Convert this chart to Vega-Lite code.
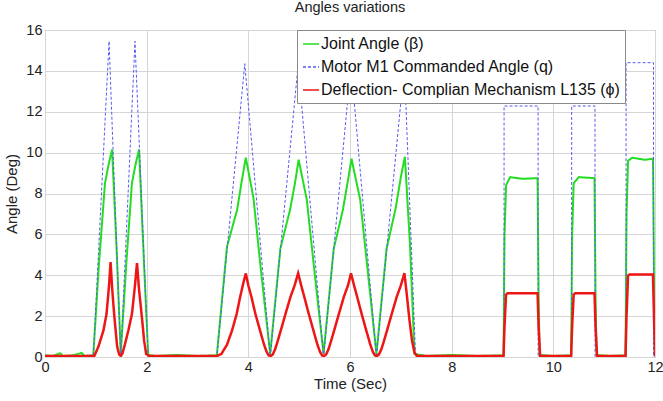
{
  "$schema": "https://vega.github.io/schema/vega-lite/v6.json",
  "width": 610,
  "height": 327,
  "autosize": {"type": "none"},
  "padding": {"left": 45, "top": 30, "right": 8, "bottom": 44},
  "background": "white",
  "config": {
    "font": "Liberation Sans",
    "view": {"stroke": "#8a8a8a", "strokeWidth": 1},
    "axis": {"labelFontSize": 14.5, "labelColor": "#222", "titleFontSize": 15, "titleFontWeight": "normal", "titleColor": "#222", "gridColor": "#d6d6d6", "gridWidth": 1, "ticks": false, "domain": false, "labelPadding": 3}
  },
  "title": {"text": "Angles variations", "fontSize": 14.5, "fontWeight": "normal", "color": "#222", "offset": 7, "anchor": "middle"},
  "data": {"values": [
    {"t":0,"v":0,"s":"q"},{"t":0.95,"v":0,"s":"q"},{"t":1.26,"v":15.45,"s":"q"},{"t":1.49,"v":0,"s":"q"},{"t":1.77,"v":15.45,"s":"q"},{"t":2.03,"v":0,"s":"q"},{"t":3.38,"v":0,"s":"q"},{"t":3.93,"v":14.35,"s":"q"},{"t":4.43,"v":0,"s":"q"},{"t":4.98,"v":14.3,"s":"q"},{"t":5.48,"v":0,"s":"q"},{"t":6.02,"v":14.3,"s":"q"},{"t":6.52,"v":0,"s":"q"},{"t":7.07,"v":14.3,"s":"q"},{"t":7.29,"v":0,"s":"q"},{"t":9.03,"v":0,"s":"q"},{"t":9.031,"v":12.28,"s":"q"},{"t":9.7,"v":12.28,"s":"q"},{"t":9.701,"v":0,"s":"q"},{"t":10.36,"v":0,"s":"q"},{"t":10.361,"v":12.28,"s":"q"},{"t":10.82,"v":12.28,"s":"q"},{"t":10.821,"v":0,"s":"q"},{"t":11.43,"v":0,"s":"q"},{"t":11.431,"v":14.4,"s":"q"},{"t":11.97,"v":14.4,"s":"q"},{"t":11.971,"v":0,"s":"q"},{"t":12,"v":0,"s":"q"},

    {"t":0,"v":0.08,"s":"beta"},{"t":0.15,"v":0.05,"s":"beta"},{"t":0.3,"v":0.18,"s":"beta"},{"t":0.35,"v":0.05,"s":"beta"},{"t":0.55,"v":0.08,"s":"beta"},{"t":0.72,"v":0.2,"s":"beta"},{"t":0.78,"v":0.05,"s":"beta"},{"t":0.95,"v":0.08,"s":"beta"},{"t":1.06,"v":4.5,"s":"beta"},{"t":1.18,"v":8.5,"s":"beta"},{"t":1.25,"v":9.4,"s":"beta"},{"t":1.32,"v":10.15,"s":"beta"},{"t":1.41,"v":5.2,"s":"beta"},{"t":1.49,"v":0.15,"s":"beta"},{"t":1.6,"v":4.6,"s":"beta"},{"t":1.71,"v":8.5,"s":"beta"},{"t":1.78,"v":9.4,"s":"beta"},{"t":1.85,"v":10.15,"s":"beta"},{"t":1.94,"v":5,"s":"beta"},{"t":2.03,"v":0.1,"s":"beta"},{"t":2.2,"v":0.05,"s":"beta"},{"t":2.6,"v":0.1,"s":"beta"},{"t":3.0,"v":0.05,"s":"beta"},{"t":3.38,"v":0.08,"s":"beta"},{"t":3.58,"v":5.4,"s":"beta"},{"t":3.78,"v":7.2,"s":"beta"},{"t":3.87,"v":8.6,"s":"beta"},{"t":3.95,"v":9.75,"s":"beta"},{"t":4.1,"v":7.8,"s":"beta"},{"t":4.25,"v":4.2,"s":"beta"},{"t":4.43,"v":0.15,"s":"beta"},{"t":4.63,"v":5.3,"s":"beta"},{"t":4.82,"v":7.2,"s":"beta"},{"t":4.91,"v":8.4,"s":"beta"},{"t":4.99,"v":9.65,"s":"beta"},{"t":5.15,"v":7.7,"s":"beta"},{"t":5.3,"v":4.2,"s":"beta"},{"t":5.48,"v":0.15,"s":"beta"},{"t":5.68,"v":5.3,"s":"beta"},{"t":5.86,"v":7.2,"s":"beta"},{"t":5.95,"v":8.5,"s":"beta"},{"t":6.03,"v":9.7,"s":"beta"},{"t":6.2,"v":7.7,"s":"beta"},{"t":6.35,"v":4.2,"s":"beta"},{"t":6.52,"v":0.15,"s":"beta"},{"t":6.72,"v":5.3,"s":"beta"},{"t":6.9,"v":7.3,"s":"beta"},{"t":7.0,"v":8.8,"s":"beta"},{"t":7.08,"v":9.8,"s":"beta"},{"t":7.18,"v":5.5,"s":"beta"},{"t":7.27,"v":0.15,"s":"beta"},{"t":7.5,"v":0.05,"s":"beta"},{"t":8.0,"v":0.1,"s":"beta"},{"t":8.5,"v":0.05,"s":"beta"},{"t":9.02,"v":0.08,"s":"beta"},{"t":9.04,"v":6.0,"s":"beta"},{"t":9.07,"v":8.4,"s":"beta"},{"t":9.15,"v":8.8,"s":"beta"},{"t":9.4,"v":8.72,"s":"beta"},{"t":9.69,"v":8.75,"s":"beta"},{"t":9.71,"v":3.0,"s":"beta"},{"t":9.73,"v":0.1,"s":"beta"},{"t":10.0,"v":0.05,"s":"beta"},{"t":10.35,"v":0.08,"s":"beta"},{"t":10.37,"v":6.0,"s":"beta"},{"t":10.4,"v":8.5,"s":"beta"},{"t":10.5,"v":8.8,"s":"beta"},{"t":10.81,"v":8.75,"s":"beta"},{"t":10.83,"v":3.0,"s":"beta"},{"t":10.85,"v":0.1,"s":"beta"},{"t":11.1,"v":0.05,"s":"beta"},{"t":11.42,"v":0.08,"s":"beta"},{"t":11.44,"v":7.0,"s":"beta"},{"t":11.47,"v":9.6,"s":"beta"},{"t":11.55,"v":9.75,"s":"beta"},{"t":11.8,"v":9.65,"s":"beta"},{"t":11.96,"v":9.7,"s":"beta"},{"t":11.98,"v":4.0,"s":"beta"},{"t":12,"v":0.1,"s":"beta"},

    {"t":0,"v":0.05,"s":"phi"},{"t":0.97,"v":0.05,"s":"phi"},{"t":1.05,"v":0.5,"s":"phi"},{"t":1.15,"v":1.3,"s":"phi"},{"t":1.21,"v":2.1,"s":"phi"},{"t":1.26,"v":3.5,"s":"phi"},{"t":1.29,"v":4.65,"s":"phi"},{"t":1.32,"v":3.4,"s":"phi"},{"t":1.36,"v":2.1,"s":"phi"},{"t":1.42,"v":0.5,"s":"phi"},{"t":1.46,"v":0.12,"s":"phi"},{"t":1.49,"v":0.05,"s":"phi"},{"t":1.52,"v":0.15,"s":"phi"},{"t":1.57,"v":0.6,"s":"phi"},{"t":1.64,"v":1.3,"s":"phi"},{"t":1.71,"v":2.1,"s":"phi"},{"t":1.77,"v":3.5,"s":"phi"},{"t":1.81,"v":4.6,"s":"phi"},{"t":1.85,"v":3.3,"s":"phi"},{"t":1.9,"v":2.1,"s":"phi"},{"t":1.95,"v":0.8,"s":"phi"},{"t":1.99,"v":0.15,"s":"phi"},{"t":2.05,"v":0.05,"s":"phi"},{"t":3.38,"v":0.05,"s":"phi"},{"t":3.47,"v":0.15,"s":"phi"},{"t":3.58,"v":0.6,"s":"phi"},{"t":3.68,"v":1.3,"s":"phi"},{"t":3.77,"v":2.1,"s":"phi"},{"t":3.84,"v":2.95,"s":"phi"},{"t":3.9,"v":3.6,"s":"phi"},{"t":3.95,"v":4.09,"s":"phi"},{"t":4.0,"v":3.5,"s":"phi"},{"t":4.06,"v":2.95,"s":"phi"},{"t":4.14,"v":2.1,"s":"phi"},{"t":4.23,"v":1.3,"s":"phi"},{"t":4.31,"v":0.6,"s":"phi"},{"t":4.36,"v":0.25,"s":"phi"},{"t":4.4,"v":0.08,"s":"phi"},{"t":4.44,"v":0.05,"s":"phi"},{"t":4.48,"v":0.12,"s":"phi"},{"t":4.53,"v":0.4,"s":"phi"},{"t":4.58,"v":0.8,"s":"phi"},{"t":4.65,"v":1.4,"s":"phi"},{"t":4.73,"v":2.1,"s":"phi"},{"t":4.83,"v":2.95,"s":"phi"},{"t":4.91,"v":3.5,"s":"phi"},{"t":4.98,"v":4.1,"s":"phi"},{"t":5.04,"v":3.5,"s":"phi"},{"t":5.1,"v":2.95,"s":"phi"},{"t":5.19,"v":2.1,"s":"phi"},{"t":5.28,"v":1.3,"s":"phi"},{"t":5.36,"v":0.6,"s":"phi"},{"t":5.41,"v":0.25,"s":"phi"},{"t":5.45,"v":0.08,"s":"phi"},{"t":5.49,"v":0.05,"s":"phi"},{"t":5.53,"v":0.12,"s":"phi"},{"t":5.58,"v":0.4,"s":"phi"},{"t":5.63,"v":0.8,"s":"phi"},{"t":5.7,"v":1.4,"s":"phi"},{"t":5.78,"v":2.1,"s":"phi"},{"t":5.88,"v":2.95,"s":"phi"},{"t":5.96,"v":3.5,"s":"phi"},{"t":6.02,"v":4.09,"s":"phi"},{"t":6.08,"v":3.5,"s":"phi"},{"t":6.14,"v":2.95,"s":"phi"},{"t":6.23,"v":2.1,"s":"phi"},{"t":6.32,"v":1.3,"s":"phi"},{"t":6.4,"v":0.6,"s":"phi"},{"t":6.45,"v":0.25,"s":"phi"},{"t":6.49,"v":0.08,"s":"phi"},{"t":6.53,"v":0.05,"s":"phi"},{"t":6.57,"v":0.12,"s":"phi"},{"t":6.62,"v":0.4,"s":"phi"},{"t":6.67,"v":0.8,"s":"phi"},{"t":6.74,"v":1.4,"s":"phi"},{"t":6.82,"v":2.1,"s":"phi"},{"t":6.92,"v":2.95,"s":"phi"},{"t":7.0,"v":3.5,"s":"phi"},{"t":7.07,"v":4.1,"s":"phi"},{"t":7.12,"v":3.0,"s":"phi"},{"t":7.17,"v":1.8,"s":"phi"},{"t":7.22,"v":0.8,"s":"phi"},{"t":7.27,"v":0.2,"s":"phi"},{"t":7.32,"v":0.05,"s":"phi"},{"t":9.02,"v":0.05,"s":"phi"},{"t":9.04,"v":1.5,"s":"phi"},{"t":9.07,"v":3.05,"s":"phi"},{"t":9.1,"v":3.12,"s":"phi"},{"t":9.69,"v":3.12,"s":"phi"},{"t":9.71,"v":1.5,"s":"phi"},{"t":9.74,"v":0.05,"s":"phi"},{"t":10.35,"v":0.05,"s":"phi"},{"t":10.37,"v":1.5,"s":"phi"},{"t":10.4,"v":3.05,"s":"phi"},{"t":10.43,"v":3.12,"s":"phi"},{"t":10.81,"v":3.12,"s":"phi"},{"t":10.83,"v":1.5,"s":"phi"},{"t":10.86,"v":0.05,"s":"phi"},{"t":11.42,"v":0.05,"s":"phi"},{"t":11.44,"v":2.0,"s":"phi"},{"t":11.47,"v":3.98,"s":"phi"},{"t":11.5,"v":4.04,"s":"phi"},{"t":11.96,"v":4.04,"s":"phi"},{"t":11.98,"v":2.0,"s":"phi"},{"t":12,"v":0.05,"s":"phi"}
  ]},
  "encoding": {
    "x": {"field": "t", "type": "quantitative", "scale": {"domain": [0, 12], "nice": false, "zero": false}, "axis": {"values": [0,2,4,6,8,10,12], "title": "Time (Sec)", "titlePadding": 3, "labelFlush": false}},
    "y": {"field": "v", "type": "quantitative", "scale": {"domain": [0, 16], "nice": false}, "axis": {"values": [0,2,4,6,8,10,12,14,16], "title": "Angle (Deg)", "titlePadding": 6, "labelFlush": false}},
    "color": {"field": "s", "type": "nominal", "scale": {"domain": ["beta", "q", "phi"], "range": ["#22dd22", "#5a5af0", "#ee1515"]},
      "legend": {"title": null, "orient": "none", "legendX": 252, "legendY": 0, "labelExpr": "datum.value === 'beta' ? 'Joint Angle (β)' : datum.value === 'q' ? 'Motor M1 Commanded Angle (q)' : 'Deflection- Complian Mechanism L135 (ϕ)'", "labelFontSize": 16, "labelLimit": 500, "labelColor": "#111", "symbolType": "stroke", "symbolSize": 256, "symbolStrokeWidth": 1.5, "labelOffset": 1, "rowPadding": 6, "padding": 5, "fillColor": "white", "strokeColor": "#8a8a8a"}},
    "strokeDash": {"field": "s", "type": "nominal", "scale": {"domain": ["beta", "q", "phi"], "range": [[1, 0], [3, 2], [1, 0]]},
      "legend": {"title": null, "orient": "none", "legendX": 252, "legendY": 0, "labelExpr": "datum.value === 'beta' ? 'Joint Angle (β)' : datum.value === 'q' ? 'Motor M1 Commanded Angle (q)' : 'Deflection- Complian Mechanism L135 (ϕ)'", "labelFontSize": 16, "labelLimit": 500, "labelColor": "#111", "symbolType": "stroke", "symbolSize": 256, "symbolStrokeWidth": 1.5, "labelOffset": 1, "rowPadding": 6, "padding": 5, "fillColor": "white", "strokeColor": "#8a8a8a"}}
  },
  "layer": [
    {"transform": [{"filter": "datum.s === 'beta'"}], "mark": {"type": "line", "strokeWidth": 2, "clip": true}},
    {"transform": [{"filter": "datum.s === 'q'"}], "mark": {"type": "line", "strokeWidth": 1, "clip": true}},
    {"transform": [{"filter": "datum.s === 'phi'"}], "mark": {"type": "line", "strokeWidth": 2.5, "clip": true}}
  ]
}
